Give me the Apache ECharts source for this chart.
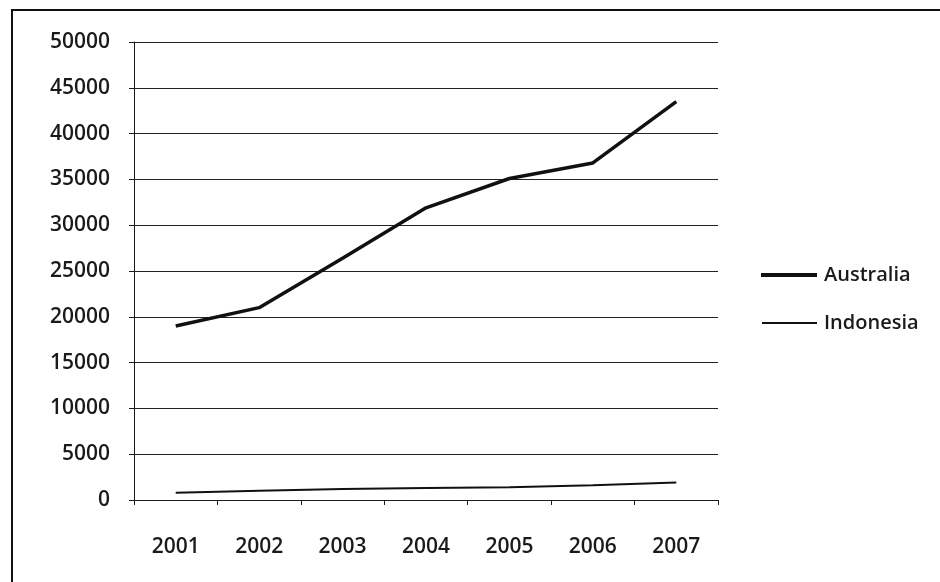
<!DOCTYPE html>
<html>
<head>
<meta charset="utf-8">
<script src="https://cdn.jsdelivr.net/npm/echarts@6/dist/echarts.min.js"></script>
<style>
  html, body { margin: 0; padding: 0; background: #fff; }
  #chart { width: 940px; height: 582px; }
</style>
</head>
<body>
<div id="chart"></div>
<script>
const years = ['2001', '2002', '2003', '2004', '2005', '2006', '2007'];
const australia = [19000, 21000, 26400, 31900, 35100, 36800, 43500];
const indonesia = [800, 1000, 1200, 1300, 1400, 1600, 1900];
const yTicks = { min: 0, max: 50000, step: 5000 };

const font = '"Open Sans", "Liberation Sans", sans-serif';
const ink = '#1a1a1a';
const chart = echarts.init(document.getElementById('chart'), null, { renderer: 'canvas' });

const legendText = { fontFamily: font, fontSize: 20, fontWeight: 600, color: ink, padding: [0, 0, 0, 2] };

chart.setOption({
  backgroundColor: '#fff',
  animation: false,
  graphic: [{
    type: 'rect',
    shape: { x: 12, y: 10, width: 940, height: 600 },
    style: { fill: 'none', stroke: '#111', lineWidth: 2 },
    silent: true
  }],
  grid: { left: 134, right: 222, top: 42, bottom: 82 },
  legend: [{
    data: [{ name: 'Australia', icon: 'rect' }],
    left: 761, top: 265, padding: 0,
    itemWidth: 56, itemHeight: 4, itemGap: 0,
    textStyle: legendText
  }, {
    data: [{ name: 'Indonesia', icon: 'rect' }],
    left: 762, top: 313, padding: 0,
    itemWidth: 55, itemHeight: 2, itemGap: 0,
    textStyle: legendText
  }],
  xAxis: {
    type: 'category',
    data: years,
    boundaryGap: true,
    axisLine: { show: true, lineStyle: { color: ink, width: 1 } },
    axisTick: { show: true, length: 5, lineStyle: { color: ink } },
    axisLabel: { fontFamily: font, fontSize: 21, fontWeight: 600, color: ink, margin: 37 }
  },
  yAxis: {
    type: 'value',
    min: yTicks.min, max: yTicks.max, interval: yTicks.step,
    axisLine: { show: true, lineStyle: { color: ink, width: 1 } },
    axisTick: { show: true, length: 5, lineStyle: { color: ink } },
    axisLabel: {
      fontFamily: font, fontSize: 21, fontWeight: 600, color: ink, margin: 24,
      formatter: v => String(v)
    },
    splitLine: { show: true, lineStyle: { color: '#222', width: 1 } }
  },
  series: [{
    name: 'Australia',
    type: 'line',
    data: australia,
    symbol: 'none',
    lineStyle: { color: '#111', width: 3.5 },
    itemStyle: { color: '#111' }
  }, {
    name: 'Indonesia',
    type: 'line',
    data: indonesia,
    symbol: 'none',
    lineStyle: { color: '#111', width: 2 },
    itemStyle: { color: '#111' }
  }]
});
</script>
</body>
</html>
